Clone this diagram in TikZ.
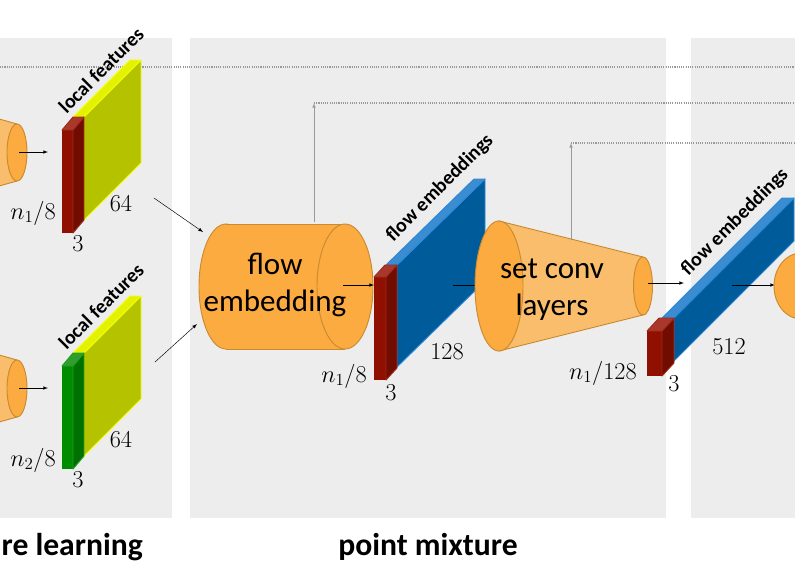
\documentclass[tikz,border=0pt]{standalone}
\usepackage{fontspec}
\setmainfont{Carlito}
\usepackage{tikz}
\usetikzlibrary{shapes,arrows,positioning,calc}

\definecolor{panel}{HTML}{EDEDED}
\definecolor{naranja}{HTML}{FBAB40}
\definecolor{naranjaclaro}{HTML}{F9BD6C}
\definecolor{bordenaranja}{HTML}{C98A30}
\definecolor{rojoF}{HTML}{901000}
\definecolor{rojoS}{HTML}{700C00}
\definecolor{rojoT}{HTML}{A9382C}
\definecolor{rojoB}{HTML}{A02A1E}
\definecolor{verdeF}{HTML}{008C00}
\definecolor{verdeS}{HTML}{007000}
\definecolor{verdeT}{HTML}{2F9E2F}
\definecolor{verdeB}{HTML}{20A020}
\definecolor{amarilloF}{HTML}{E4F200}
\definecolor{amarilloS}{HTML}{B4C200}
\definecolor{amarilloT}{HTML}{E4F200}
\definecolor{amarilloB}{HTML}{EEFF10}
\definecolor{azulF}{HTML}{005B9B}
\definecolor{azulS}{HTML}{005B9B}
\definecolor{azulT}{HTML}{3B8DD2}
\definecolor{azulB}{HTML}{2F88D6}

% caja 3D: esquina sup. izq., esquina inf. der., profundidad (dx,dy), color
\newcommand{\caja}[7]{%
  \fill[#7F] (#1,#2) rectangle (#3,#4);
  \filldraw[fill=#7S, draw=#7B, line width=0.8pt, line join=round] (#3,#2) -- ++(#5,-#6) -- ++(0,{(#4)-(#2)}) -- (#3,#4) -- cycle;
  \filldraw[fill=#7T, draw=#7B, line width=0.8pt, line join=round] (#1,#2) -- ++(#5,-#6) -- ++({(#3)-(#1)},0) -- (#3,#2) -- cycle;
}

\begin{document}
\begin{tikzpicture}[x=0.03cm,y=-0.03cm]
  \tikzstyle{fondo}=[fill=panel]
  \tikzstyle{conector}=[-latex, thin, black]
  \tikzstyle{salto}=[-latex, gray!80, thin]
  \tikzstyle{punteado}=[densely dotted, gray!80, line width=0.9pt]
  \tikzstyle{cil}=[fill=naranja, draw=bordenaranja, line width=0.8pt]
  \tikzstyle{cono}=[fill=naranjaclaro, draw=bordenaranja, line width=0.8pt]
  \tikzstyle{etiqueta}=[font=\fontsize{26.5}{31.5}\selectfont, align=center]
  \tikzstyle{medida}=[font=\fontsize{22.5}{22.5}\selectfont, inner sep=0pt]
  \tikzstyle{rotulo}=[font=\fontsize{17}{17}\selectfont\bfseries, rotate=45, inner sep=0pt]
  \tikzstyle{titulo}=[font=\fontsize{27}{27}\selectfont\bfseries]

  \clip (0,0) rectangle (795,576);

  % Paneles
  \fill[fondo] (-10,38) rectangle (172,518);
  \fill[fondo] (190,38) rectangle (666,518);
  \fill[fondo] (691,38) rectangle (805,518);

  % Lineas punteadas
  \coordinate (p0) at (0,67);
  \coordinate (k1) at (314,103);
  \coordinate (k2) at (571,143);
  \draw[punteado] (p0) -- (p0 -| 795,0);
  \draw[punteado] (k1) -- (k1 -| 795,0);
  \draw[punteado] (k2) -- (k2 -| 795,0);

  % Rasgos locales (dos nubes)
  \foreach \dy/\col/\i/\ny in {0/rojo/1/213, 236/verde/2/460} {
    \filldraw[cono] (-40,108+\dy) -- (17,124+\dy) -- (17,181+\dy) -- (-40,197+\dy) -- cycle;
    \filldraw[cil] (17,152.5+\dy) ellipse [x radius=10, y radius=28.5];
    \coordinate (s\i) at (19,152+\dy);
    \coordinate (e\i) at (48,152+\dy);
    \draw[conector] (s\i) -- (e\i);
    \caja{73}{117+\dy}{84}{220+\dy}{57}{57}{amarillo}
    \caja{62}{130+\dy}{73}{233+\dy}{11}{13}{\col}
    \node[rotulo] (lf\i) at (101,70+\dy) {local features};
    \node[medida, anchor=east] (n\i) at (56,\ny) {$n_\i/8$};
    \node[medida] (d\i) at (78,244+\dy) {$3$};
    \node[medida] (c\i) at (121,204+\dy) {$64$};
  }

  % Hacia flow embedding
  \coordinate (a1) at (154,198);
  \coordinate (b1) at (203,232);
  \coordinate (a2) at (155,362);
  \coordinate (b2) at (197,324);
  \draw[conector] (a1) -- (b1);
  \draw[conector] (a2) -- (b2);

  % Flow embedding
  \filldraw[cil] (226,286.5) ellipse [x radius=27, y radius=62.5];
  \fill[naranja] (226,224) rectangle (345,349);
  \draw[bordenaranja, line width=0.8pt] (226,224) -- (345,224);
  \draw[bordenaranja, line width=0.8pt] (226,349) -- (345,349);
  \filldraw[cil] (345,286.5) ellipse [x radius=28, y radius=62.5];
  \node[etiqueta] (fe) at (275,285) {flow\\embedding};
  \coordinate (fe1) at (343,285);
  \coordinate (fe2) at (374,285);
  \draw[conector] (fe1) -- (fe2);
  \coordinate (u1) at (314,222);
  \draw[salto] (u1) -- (k1);

  \caja{386}{265}{397}{367}{88}{86}{azul}
  \caja{374}{277}{386}{380}{11}{12}{rojo}
  \node[rotulo] (fm1) at (440,188) {flow embeddings};
  \node[medida, anchor=east] (n3) at (367,376) {$n_1/8$};
  \node[medida] (d3) at (391,393) {$3$};
  \node[medida] (c3) at (447,352) {$128$};

  % Set conv
  \coordinate (g1) at (453,285);
  \coordinate (g2) at (490,285);
  \draw[conector] (g1) -- (g2);
  \filldraw[cono] (499,221) -- (643,257) -- (643,315) -- (499,351) -- cycle;
  \filldraw[cil] (499,286) ellipse [x radius=24, y radius=65];
  \filldraw[cil] (643,286) ellipse [x radius=9.5, y radius=29];
  \node[etiqueta] (sc) at (552,290) {set conv\\layers};
  \coordinate (u2) at (571,240);
  \draw[salto] (u2) -- (k2);
  \coordinate (h1) at (648,283);
  \coordinate (h2) at (684,283);
  \draw[conector] (h1) -- (h2);

  \caja{662}{318}{674}{361}{120}{120}{azul}
  \caja{647}{331}{662}{376}{12}{13}{rojo}
  \node[rotulo] (fm2) at (735,222) {flow embeddings};
  \node[medida, anchor=east] (n4) at (637,373) {$n_1/128$};
  \node[medida] (d4) at (674,384) {$3$};
  \node[medida] (c4) at (729,347) {$512$};

  % Siguiente bloque
  \coordinate (r1) at (732,285);
  \coordinate (r2) at (775,285);
  \draw[conector] (r1) -- (r2);
  \filldraw[cil] (801,286) ellipse [x radius=27, y radius=33];

  % Titulos
  \node[titulo, anchor=east] (t1) at (147,547) {feature learning};
  \node[titulo] (t2) at (428,547) {point mixture};
\end{tikzpicture}
\end{document}
